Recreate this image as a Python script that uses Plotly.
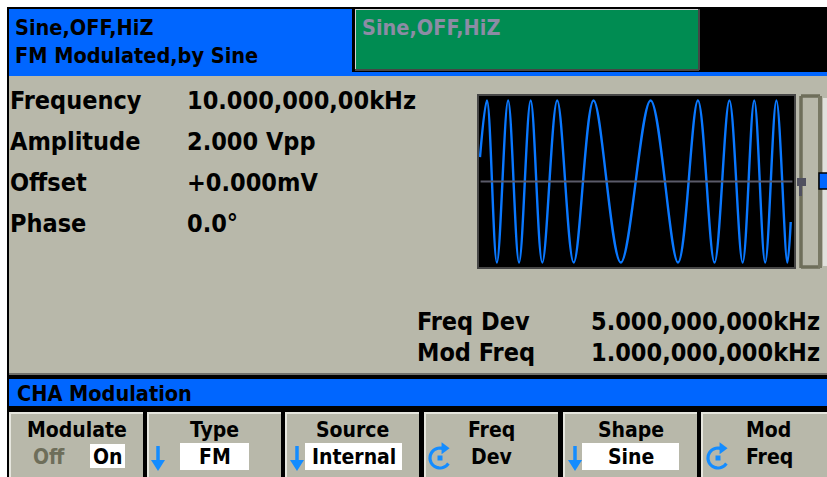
import math
import plotly.graph_objects as go

W, H = 827, 477

header_line1 = "Sine,OFF,HiZ"
header_line2 = "FM Modulated,by Sine"
other_channel = "Sine,OFF,HiZ"
param_labels = ["Frequency", "Amplitude", "Offset", "Phase"]
param_values = ["10.000,000,00kHz", "2.000 Vpp", "+0.000mV", "0.0°"]
mod_labels = ["Freq Dev", "Mod Freq"]
mod_values = ["5.000,000,000kHz", "1.000,000,000kHz"]
menu_title = "CHA Modulation"
key_titles = ["Modulate", "Type", "Source", "Freq", "Shape", "Mod"]
key_values = ["On", "FM", "Internal", "Dev", "Sine", "Freq"]
key_off_text = "Off"
# FM waveform preview: extrema (time in preview columns, amplitude)
wave_t = [1, 8, 18, 29.3, 40.3, 52, 63.7, 78.7, 95.3, 115.3, 142.7, 172.7,
          200.3, 220.3, 237, 252, 265.3, 277, 288, 299.3, 310.3, 313.7]
wave_v = [0.3, 1, -1, 1, -1, 1, -1, 1, -1, 1, -1, 1,
          -1, 1, -1, 1, -1, 1, -1, 1, -1, -0.5]

# ---------------- style ----------------
FONT = "DejaVu Sans Condensed, Liberation Sans Narrow, Arial Narrow, DejaVu Sans, sans-serif"
BLUE = "rgb(0,102,255)"
GREEN = "rgb(0,140,82)"
GREY = "rgb(184,184,170)"
KEY_GREY = "rgb(184,184,170)"
ICON_BLUE = "rgb(20,140,255)"
WAVE_BLUE = "rgb(10,120,255)"
OLIVE = "rgb(110,110,90)"
BIG = 25
HEAD = 21.5
KEY = 21

shapes = []
annotations = []


def rect(x0, y0, x1, y1, fill, line_color=None, lw=0, layer="below"):
    shapes.append(dict(type="rect", xref="x", yref="y", x0=x0, y0=y0, x1=x1, y1=y1,
                       fillcolor=fill, line=dict(color=line_color or fill, width=lw),
                       layer=layer))


def line(x0, y0, x1, y1, color, lw, layer="below"):
    shapes.append(dict(type="line", xref="x", yref="y", x0=x0, y0=y0, x1=x1, y1=y1,
                       line=dict(color=color, width=lw), layer=layer))


def path(d, fill, color, lw=0, layer="above"):
    shapes.append(dict(type="path", xref="x", yref="y", path=d, fillcolor=fill,
                       line=dict(color=color, width=lw), layer=layer))


def text(x, y, s, size, color="black", bold=True, xanchor="left"):
    annotations.append(dict(x=x, y=y, xref="x", yref="y", text=s, showarrow=False,
                            xanchor=xanchor, yanchor="middle",
                            font=dict(family=FONT, size=size, color=color,
                                      weight="bold" if bold else "normal")))


# outer frame
rect(7, 7, W + 2, H + 2, "black")
# header
rect(9, 9, W + 2, 76, BLUE)
rect(352, 8, W + 2, 72, "black")
rect(355, 9, 699, 70, GREEN)
line(355, 9.5, 699, 9.5, "rgb(210,210,210)", 1)
line(355.5, 9, 355.5, 70, "rgb(210,210,210)", 1)
line(699, 9, 699, 70, "rgb(70,70,70)", 2)
line(355, 70, 699, 70, "rgb(70,70,70)", 2)
text(13, 27, header_line1, HEAD)
text(13, 55, header_line2, HEAD)
text(360, 27, other_channel, HEAD, color="rgb(140,140,165)")

# main parameter area
rect(9, 76, W + 2, 373, GREY)
for i, (lab, val) in enumerate(zip(param_labels, param_values)):
    y = 100 + i * 41
    text(8, y, lab, BIG)
    text(185, y, val, BIG)
for i, (lab, val) in enumerate(zip(mod_labels, mod_values)):
    y = 321 + i * 31
    text(415, y, lab, BIG)
    text(589, y, val, BIG)
line(9, 374, W + 2, 374, "rgb(225,225,215)", 1)

# menu bar
rect(9, 379, W + 2, 406, BLUE)
text(15, 393, menu_title, HEAD)

# soft keys
key_x = [9, 147, 285, 424, 563, 701]
key_w = 134
for i in range(6):
    x0 = key_x[i]
    x1 = x0 + key_w
    rect(x0, 412, x1, H + 2, KEY_GREY)
    line(x0, 413, x1, 413, "rgb(230,230,222)", 2)
    line(x0 + 1, 413, x0 + 1, H + 2, "rgb(230,230,222)", 2)
    cx = x0 + key_w / 2 + 0.5
    text(cx, 430, key_titles[i], KEY, xanchor="center")

# value boxes
rect(90, 444, 125, 468, "white")
text(107.5, 457, key_values[0], KEY, xanchor="center")
text(49, 457, key_off_text, KEY, color=OLIVE, xanchor="center")
rect(180, 443, 249, 470, "white")
text(214.5, 457, key_values[1], KEY, xanchor="center")
rect(305, 443, 402, 470, "white")
text(353.5, 457, key_values[2], KEY, xanchor="center")
text(492, 457, key_values[3], KEY, xanchor="center")
rect(582, 443, 679, 470, "white")
text(630.5, 457, key_values[4], KEY, xanchor="center")
text(769, 457, key_values[5], KEY, xanchor="center")


# down-arrow icons
def down_arrow(cx):
    line(cx, 446, cx, 462, ICON_BLUE, 3.5, layer="above")
    path(f"M {cx-7},{460} L {cx+7},{460} L {cx},{471} Z", ICON_BLUE, ICON_BLUE, 0)


for cx in (158, 297, 575):
    down_arrow(cx)


# circular-arrow icons
def circ_arrow(cx, cy):
    r = 10
    pts = []
    for k in range(0, 29):
        a = math.radians(75 + k * 9)
        pts.append((cx + r * math.cos(a), cy - r * math.sin(a)))
    d = "M " + " L ".join(f"{px:.1f},{py:.1f}" for px, py in pts)
    shapes.append(dict(type="path", xref="x", yref="y", path=d,
                       line=dict(color=ICON_BLUE, width=3.2), layer="above"))
    ax, ay = cx + r * math.cos(math.radians(75)), cy - r * math.sin(math.radians(75))
    path(f"M {ax-1},{ay-6} L {ax+7},{ay} L {ax-1},{ay+6} Z", ICON_BLUE, ICON_BLUE, 0)
    path(f"M {cx-2.5},{cy-2.5} L {cx+2.5},{cy-2.5} L {cx+2.5},{cy+2.5} L {cx-2.5},{cy+2.5} Z",
         ICON_BLUE, ICON_BLUE, 0)


circ_arrow(440, 458)
circ_arrow(718, 458)

# waveform preview box
BX0, BX1, BY0, BY1 = 478, 795, 95, 268
rect(BX0, BY0, BX1, BY1, "black", "rgb(70,70,70)", 2)
# bracket / slider at right
line(801, 96, 801, 268, OLIVE, 3.5)
line(801, 96, 820, 96, OLIVE, 3.5)
line(801, 267, 820, 267, OLIVE, 3.5)
line(820, 96, 820, 268, "rgb(120,120,100)", 4)
rect(823, 98, W + 2, 266, "rgb(225,225,220)")
rect(819, 173, W + 2, 189, BLUE, "black", 1.5, layer="above")
# trigger marker
path("M 797,178 L 806,178 L 806,186 L 802,186 L 802,196 L 799,196 L 799,186 L 797,186 Z",
     "rgb(80,80,95)", "rgb(80,80,95)", 0)

fig = go.Figure()
fig.add_trace(go.Scatter(x=wave_t, y=wave_v, mode="lines",
                         line=dict(color=WAVE_BLUE, width=2.4, shape="spline", smoothing=1.0),
                         xaxis="x2", yaxis="y2", hoverinfo="skip", showlegend=False))
# center line of preview
shapes.append(dict(type="line", xref="x2 domain", yref="y2", x0=0.005, x1=0.995, y0=0, y1=0,
                   line=dict(color="rgb(90,90,105)", width=2), layer="above"))

fig.update_layout(
    width=W, height=H, margin=dict(l=0, r=0, t=0, b=0),
    paper_bgcolor="white", plot_bgcolor="rgba(0,0,0,0)",
    xaxis=dict(range=[0, W], visible=False, fixedrange=True, domain=[0, 1]),
    yaxis=dict(range=[H, 0], visible=False, fixedrange=True, domain=[0, 1]),
    xaxis2=dict(range=[0, 317], visible=False, domain=[(BX0 + 1) / W, (BX1 - 1) / W],
                anchor="y2"),
    yaxis2=dict(range=[-1.055, 1.055], visible=False,
                domain=[1 - (BY1 - 1) / H, 1 - (BY0 + 1) / H], anchor="x2"),
    shapes=shapes, annotations=annotations, showlegend=False,
)

fig.write_html("out.html", config={"displayModeBar": False},
               post_script="document.body.style.margin='0px';document.body.style.overflow='hidden';")
